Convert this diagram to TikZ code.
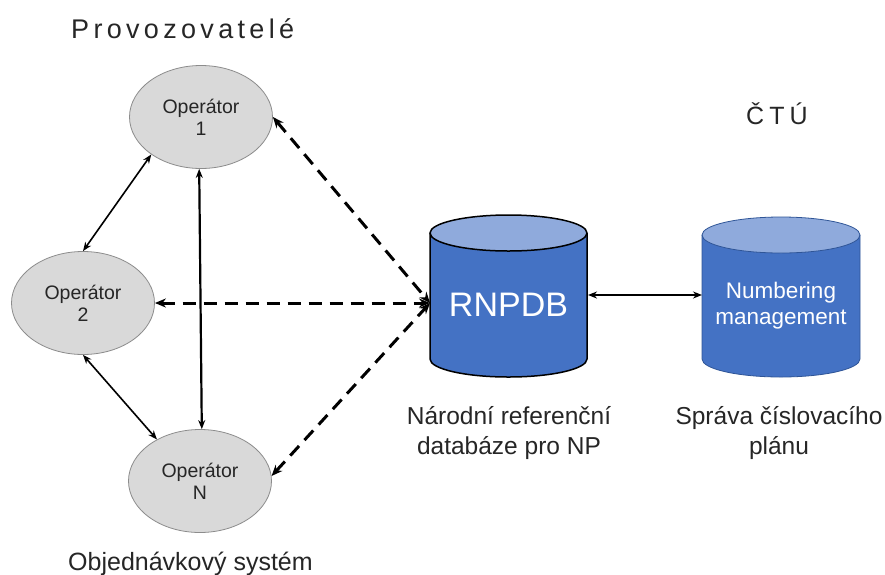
\documentclass[tikz,border=0pt]{standalone}
\usepackage{fontspec}
\setmainfont{Liberation Sans}
\newfontfamily\spacedfont[LetterSpace=16]{Liberation Sans}
\newfontfamily\widefont[LetterSpace=20]{Liberation Sans}
\usetikzlibrary{arrows.meta,shapes.geometric}
\definecolor{opfill}{HTML}{D9D9D9}
\definecolor{opline}{HTML}{8C8C8C}
\definecolor{dbbody}{HTML}{4472C4}
\definecolor{dbtop}{HTML}{8FAADC}
\definecolor{dbline}{HTML}{2F5597}
\definecolor{txt}{HTML}{262626}
\tikzset{
  opnode/.style={ellipse, fill=opfill, draw=opline, line width=0.8pt,
    minimum width=143pt, minimum height=103pt, inner sep=0pt, align=center,
    font=\fontsize{19.5}{22}\selectfont, text=txt},
  solidlink/.style={{Stealth[length=9pt,width=7pt]}-{Stealth[length=9pt,width=7pt]}, line width=1.6pt, black},
  dashlink/.style={{Stealth[length=11pt,width=9pt]}-{Stealth[length=11pt,width=9pt]}, line width=3pt, black, dash pattern=on 13pt off 8pt},
  lbl/.style={align=center, font=\fontsize{24.5}{30}\selectfont, text=txt},
  title/.style={font=\fontsize{25}{30}\selectfont, text=txt, inner sep=0pt},
}
\begin{document}
\begin{tikzpicture}[x=1pt,y=-1pt]
\useasboundingbox (0,0) rectangle (885,574);
\fill[white] (0,0) rectangle (885,574);

% titles
\node[title, anchor=base west, font=\fontsize{27}{32}\selectfont] (tprov) at (71,38) {\spacedfont Provozovatelé};
\node[title, anchor=base west, font=\fontsize{25}{30}\selectfont] (tctu) at (746,124) {\widefont ČTÚ};
\node[title, anchor=base west] (tobj) at (68,570) {Objednávkový systém};

% operators
\node[opnode] (op1) at (201,117) {Operátor\\1};
\node[opnode] (op2) at (83,303) {Operátor\\2};
\node[opnode] (opn) at (200,481) {Operátor\\N};

% RNPDB cylinder
\fill[dbbody] (430,233) -- (430,359) arc[start angle=180,end angle=0,x radius=78.5,y radius=18] -- (587,233) -- cycle;
\draw[black, line width=1.5pt] (430,233) -- (430,359) arc[start angle=180,end angle=0,x radius=78.5,y radius=18] -- (587,233);
\draw[black, line width=1.5pt, fill=dbtop] (508.5,233) ellipse[x radius=78.5, y radius=18];
\node[text=white, font=\fontsize{34}{40}\selectfont] (rn) at (508.5,305) {RNPDB};

% Numbering cylinder
\fill[dbbody] (702,235) -- (702,359) arc[start angle=180,end angle=0,x radius=79,y radius=18] -- (860,235) -- cycle;
\draw[dbline, line width=0.8pt] (702,235) -- (702,359) arc[start angle=180,end angle=0,x radius=79,y radius=18] -- (860,235);
\draw[dbline, line width=0.8pt, fill=dbtop] (781,235) ellipse[x radius=79, y radius=18];
\node[text=white, align=center, font=\fontsize{22.5}{26}\selectfont] (nm) at (781,306) {Numbering\\management};

% labels
\node[lbl] (lrn) at (509,433) {Národní referenční\\databáze pro NP};
\node[lbl] (lnm) at (779,433) {Správa číslovacího\\plánu};

% connector points
\coordinate (rnL) at (430,303);
\coordinate (rnR) at (588,295);
\coordinate (nmL) at (702,295);

% solid links
\draw[solidlink] (op1.217) -- (op2.90);
\draw[solidlink] (op2.270) -- (opn.136);
\draw[solidlink, line width=2.2pt] (op1.268) -- (opn.88);
\draw[solidlink] (rnR) -- (nmL);

% dashed links
\draw[dashlink] (op1.0) -- (rnL);
\draw[dashlink] (op2.0) -- (rnL);
\draw[dashlink] (opn.4) -- (rnL);
\end{tikzpicture}
\end{document}
